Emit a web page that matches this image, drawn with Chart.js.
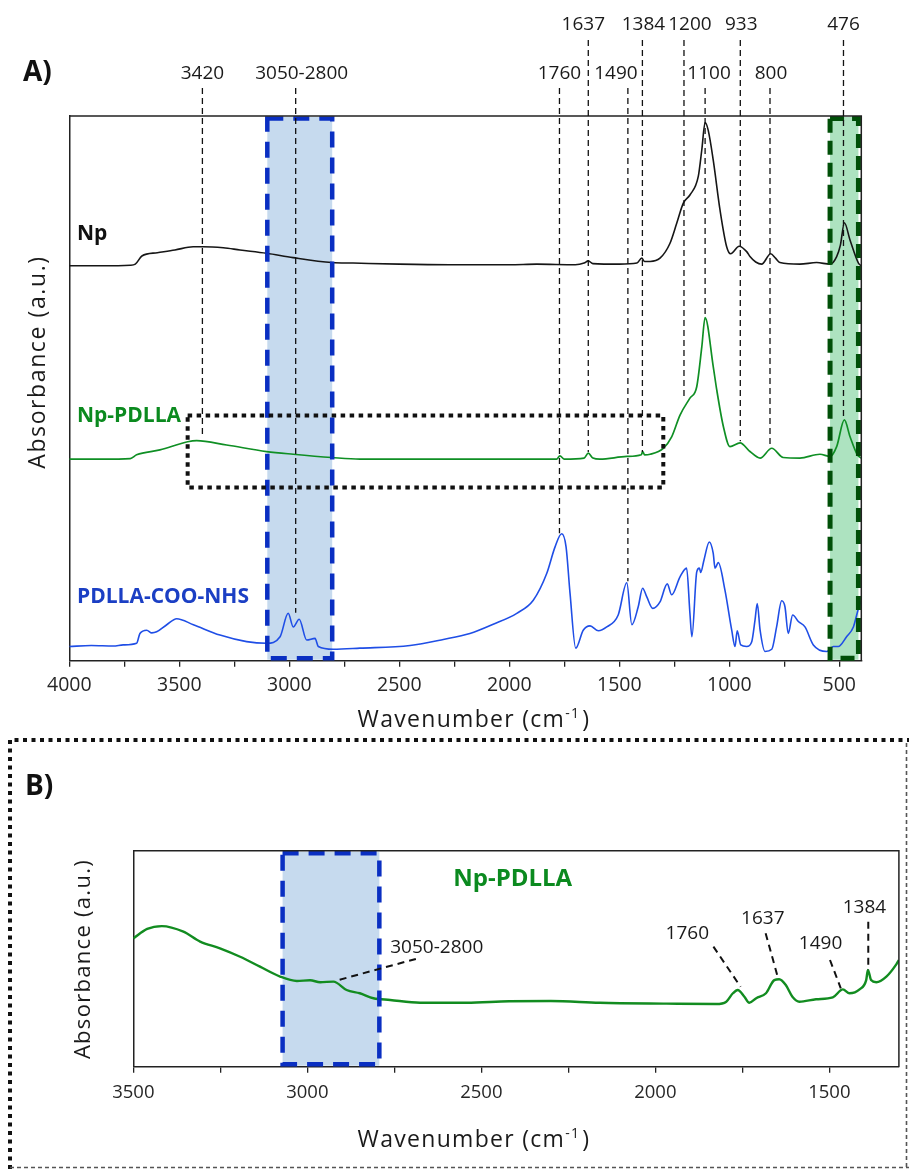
<!DOCTYPE html>
<html><head><meta charset="utf-8">
<script src="https://cdn.jsdelivr.net/npm/chart.js@4.4.1/dist/chart.umd.min.js"></script>
<style>
html,body{margin:0;padding:0;background:#fff;width:909px;height:1169px;overflow:hidden;}
canvas{position:absolute;left:0;display:block;}
#cA{top:0;}
#cB{top:735px;}
</style></head><body>
<canvas id="cA" width="909" height="735" style="width:909px;height:735px"></canvas>
<canvas id="cB" width="909" height="434" style="width:909px;height:434px"></canvas>
<script>
// ---------- DATA (panel A) ----------
const npWn  = [4000,3850,3723,3700,3670,3600,3520,3437,3392,3300,3224,3103,2983,2807,2710,2500,2270,2000,1875,1700,1660,1641,1620,1500,1420,1398,1385,1360,1315,1270,1239,1209,1179,1141,1125,1110,1096,1073,1042,1012,994,955,921,906,880,853,812,790,770,679,603,542,512,495,477,451,413,400];
const npAbs = [72.5,72.5,72.6,72.8,74.3,74.9,75.4,76.0,76.0,75.8,75.4,74.8,74.0,73.1,73.0,72.8,72.7,72.7,72.8,72.7,73.0,73.4,72.9,72.8,73.0,73.9,73.3,73.3,73.9,76.6,80.3,84.0,85.5,88.9,93.8,98.8,97.4,91.9,82.7,76.0,74.7,76.1,75.1,74.2,73.2,72.8,74.7,73.9,73.1,72.8,73.1,72.8,74.2,76.3,80.4,77.2,73.0,72.5];

const pdWn  = [4000,3850,3723,3694,3588,3462,3421,3285,3103,2982,2807,2679,2270,1785,1770,1750,1660,1641,1620,1588,1466,1400,1394,1385,1360,1300,1262,1224,1179,1148,1125,1110,1073,1057,1027,997,951,906,860,807,755,679,588,542,512,477,451,418,400];
const pdAbs = [37.0,37.0,37.1,37.8,38.7,40.2,40.4,39.6,38.4,37.9,37.3,37.0,37.0,37.0,37.6,37.0,37.2,38.1,37.2,37.0,37.5,37.8,38.4,37.8,37.9,39.0,41.1,45.1,48.2,50.3,57.6,63.0,54.0,49.7,43.0,39.3,40.0,38.4,37.2,39.0,37.3,37.2,37.9,37.5,39.3,44.2,41.1,37.8,37.2];

const nhWn  = [4000,3900,3800,3755,3694,3679,3648,3625,3603,3557,3512,3436,3315,3194,3103,3042,3005,2982,2955,2921,2883,2868,2800,2679,2451,2300,2179,2073,1966,1891,1830,1792,1762,1742,1724,1698,1664,1633,1595,1557,1505,1466,1443,1414,1394,1375,1348,1315,1282,1262,1224,1194,1179,1170,1148,1136,1130,1115,1091,1073,1065,1050,1020,989,974,964,948,921,898,883,873,860,838,807,785,762,747,732,712,686,656,618,557,527,505,467,436,413,400];
const nhAbs = [2.6,2.8,2.7,2.9,3.2,5.0,5.6,5.1,5.3,6.6,7.7,6.6,4.7,3.5,3.2,4.4,8.7,6.2,7.6,3.8,4.1,2.6,2.1,2.3,2.8,3.9,5.0,6.7,8.7,11.1,16.0,20.9,23.3,20.9,12.4,2.3,5.6,6.4,5.5,6.2,8.4,14.3,6.6,9.9,13.3,11.7,9.6,10.8,14.1,12.1,15.4,17.0,8.7,4.4,16.3,17.0,16.2,18.5,21.8,19.7,17.0,18.0,13.0,5.6,2.6,5.5,2.9,2.6,3.5,7.5,10.5,5.6,1.7,2.1,6.2,11.0,9.9,5.0,8.4,7.2,6.2,2.9,1.7,2.6,2.6,4.4,6.2,9.6,11.1];

const seriesNamesA = ['Np','Np-PDLLA','PDLLA-COO-NHS'];

// peak annotations (panel A)
const peakText = ['3420','3050-2800','1760','1637','1490','1384','1200','1100','933','800','476'];
const peakWn   = [3395,2971,1772,1641,1461,1395,1206,1110,950,815,481];
const peakEnd  = [41.1,8.8,23.4,38.3,14.6,38.3,48.4,63.1,40.3,39.2,44.4];
const peakRow  = [1,1,1,0,1,0,0,1,0,1,0];

const blueBandA  = [3100,2805];
const greenBandA = [542,413];
const zoomBoxA   = [3462,1300,31.8,45.0]; // wn from, wn to, abs low, abs high

const xTickValsA = [4000,3750,3500,3250,3000,2750,2500,2250,2000,1750,1500,1250,1000,750,500];
const xRangeA = [400,4000];

// ---------- DATA (panel B) ----------
const bWn  = [3500,3460,3418,3356,3308,3251,3193,3136,3078,3030,2992,2963,2925,2887,2849,2810,2762,2676,2542,2420,2300,2160,1968,1825,1796,1777,1763,1744,1730,1710,1682,1658,1644,1625,1606,1586,1538,1490,1461,1442,1413,1394,1389,1380,1365,1336,1307,1300];
const bAbs = [59.4,63.8,65.1,62.5,57.9,54.8,50.9,46.3,41.7,39.7,40.0,39.1,39.4,35.5,34.0,31.7,30.9,29.6,29.6,30.3,30.4,29.6,29.2,29.0,30.1,34.0,35.5,32.4,29.6,31.7,34.0,40.1,40.5,37.8,32.4,30.1,31.2,32.1,35.8,34.0,35.8,40.1,44.8,40.1,39.1,41.7,47.5,49.4];

const bandB = [3071,2793];
const bLabText = ['3050-2800','1760','1637','1490','1384'];
const bLabWn   = [2628,1908,1691,1525,1399];
const bLabAbs  = [56.0,62.2,69.2,57.9,74.4];
const bLeadFromWn  = [2688,1833,1683,1498,1388];
const bLeadFromAbs = [49.9,55.6,61.8,49.4,67.1];
const bLeadToWn    = [2920,1755,1647,1467,1388];
const bLeadToAbs   = [39.7,37.0,40.9,36.3,44.8];

const xTickValsB = [3500,3250,3000,2750,2500,2250,2000,1750,1500];
const xRangeB = [1300,3500];

// ---------- helpers ----------
const zip = (xs, ys) => xs.map((v,i)=>({x:v, y:ys[i]}));
const F = '"Open Sans", "Liberation Sans", sans-serif';
const GREEN = '#0f8f24', BLUE = '#1f4ee6', INK = '#1a1a1a';

function drawXTitle(ctx, cx, base){
  ctx.save();
  ctx.fillStyle = INK; ctx.textAlign='left'; ctx.textBaseline='alphabetic';
  ctx.letterSpacing = '1.3px';
  ctx.font = '23px ' + F;
  const main='Wavenumber (cm', end=')';
  const w1 = ctx.measureText(main).width, w3 = ctx.measureText(end).width;
  ctx.font = '14px ' + F;
  const w2 = ctx.measureText('-1').width;
  let x = cx - (w1+w2+w3+2)/2;
  ctx.font = '23px ' + F; ctx.fillText(main, x, base); x += w1;
  ctx.font = '14px ' + F; ctx.fillText('-1', x, base-9); x += w2+2;
  ctx.font = '23px ' + F; ctx.fillText(end, x, base);
  ctx.restore();
}
function drawYTitle(ctx, cx, cy, size, spacing){
  ctx.save();
  ctx.translate(cx, cy); ctx.rotate(-Math.PI/2);
  ctx.fillStyle = INK; ctx.textAlign='center'; ctx.textBaseline='middle';
  ctx.letterSpacing = spacing + 'px';
  ctx.font = size + 'px ' + F;
  ctx.fillText('Absorbance (a.u.)', 0, 0);
  ctx.restore();
}
function frame(ctx, ca){
  ctx.save(); ctx.strokeStyle='#222'; ctx.lineWidth=1.5; ctx.setLineDash([]);
  ctx.beginPath(); ctx.moveTo(ca.left, ca.top); ctx.lineTo(ca.right, ca.top); ctx.lineTo(ca.right, ca.bottom); ctx.stroke();
  ctx.restore();
}
function xScaleCfg(range, tickVals, fontSize, pad, h){
  return {
    type:'linear', min:range[0], max:range[1], reverse:true,
    afterFit(s){ s.height = h; },
    afterBuildTicks(s){ s.ticks = tickVals.map(v => ({value:v})); },
    ticks:{autoSkip:false, maxRotation:0, minRotation:0,
      color:'#262626', padding:pad, font:{family:F, size:fontSize},
      callback:v => (v % 500 === 0 ? String(v) : '')},
    grid:{display:true, drawOnChartArea:false, drawTicks:true, tickLength:6, color:'#222', lineWidth:1.3},
    border:{display:true, color:'#222', width:1.5}
  };
}
function yScaleCfg(w){
  return {min:0, max:100, afterFit(s){ s.width = w; },
    ticks:{display:false}, grid:{display:false}, border:{display:true, color:'#222', width:1.5}};
}
const lineDs = (label, data, color, width) => ({label, data, borderColor:color, borderWidth:width,
  pointRadius:0, fill:false, cubicInterpolationMode:'monotone', parsing:false});

// ---------- PANEL A ----------
const annotA = {
  id:'annotA',
  beforeDatasetsDraw(chart){
    const {ctx, chartArea:ca, scales:{x}} = chart;
    ctx.save();
    const b1=x.getPixelForValue(blueBandA[0]), b2=x.getPixelForValue(blueBandA[1]);
    ctx.fillStyle='#c6daee'; ctx.fillRect(b1, ca.top+1, b2-b1, ca.bottom-ca.top-2);
    const g1=x.getPixelForValue(greenBandA[0]), g2=x.getPixelForValue(greenBandA[1]);
    ctx.fillStyle='#ade3c0'; ctx.fillRect(g1, ca.top+1, g2-g1, ca.bottom-ca.top-2);
    ctx.restore();
  },
  afterDatasetsDraw(chart){
    const {ctx, chartArea:ca, scales:{x,y}} = chart;
    ctx.save();
    let b1=x.getPixelForValue(blueBandA[0]), b2=x.getPixelForValue(blueBandA[1]);
    ctx.strokeStyle='#0a2fc2'; ctx.lineWidth=4.5; ctx.setLineDash([16,10]);
    ctx.strokeRect(b1, ca.top+2.5, b2-b1, ca.bottom-ca.top-5);
    let g1=x.getPixelForValue(greenBandA[0]), g2=x.getPixelForValue(greenBandA[1]);
    ctx.strokeStyle='#004f08'; ctx.lineWidth=5; ctx.setLineDash([14,8]);
    ctx.strokeRect(g1, ca.top+2.5, g2-g1, ca.bottom-ca.top-5);
    const zx1=x.getPixelForValue(zoomBoxA[0]), zx2=x.getPixelForValue(zoomBoxA[1]);
    const zy1=y.getPixelForValue(zoomBoxA[3]), zy2=y.getPixelForValue(zoomBoxA[2]);
    ctx.strokeStyle='#111'; ctx.lineWidth=4; ctx.setLineDash([4.5,4.5]);
    ctx.strokeRect(zx1, zy1, zx2-zx1, zy2-zy1);
    ctx.restore();
  },
  afterDraw(chart){
    const {ctx, chartArea:ca, scales:{x,y}} = chart;
    frame(ctx, ca);
    ctx.save();
    const labelDx = [0,6,0,-5,-12,1,6,4,1,1,0];
    const startY = [40,88], labY = [29.5,78.5];
    ctx.strokeStyle='#111'; ctx.lineWidth=1.3; ctx.setLineDash([6,4]);
    peakWn.forEach((w,i)=>{
      const px = x.getPixelForValue(w);
      ctx.beginPath(); ctx.moveTo(px, startY[peakRow[i]]); ctx.lineTo(px, y.getPixelForValue(peakEnd[i])); ctx.stroke();
    });
    ctx.setLineDash([]);
    ctx.fillStyle=INK; ctx.textAlign='center'; ctx.textBaseline='alphabetic';
    ctx.font = '19px ' + F;
    peakWn.forEach((w,i)=>{
      ctx.fillText(peakText[i], x.getPixelForValue(w)+labelDx[i], labY[peakRow[i]]);
    });
    ctx.textAlign='left'; ctx.font='bold 21px ' + F;
    ctx.fillStyle='#111'; ctx.fillText(seriesNamesA[0], 77, 240);
    ctx.fillStyle='#0b8a1f'; ctx.fillText(seriesNamesA[1], 77, 421.5);
    ctx.fillStyle='#1b3fc4'; ctx.fillText(seriesNamesA[2], 77, 602.5);
    ctx.fillStyle='#111'; ctx.font='bold 28px ' + F; ctx.fillText('A)', 23, 81);
    ctx.restore();
    drawYTitle(ctx, 38, 362, 23, 1.6);
    drawXTitle(ctx, 474, 727);
  }
};

new Chart(document.getElementById('cA'), {
  type:'line',
  data:{datasets:[
    lineDs(seriesNamesA[0], zip(npWn,npAbs), '#161616', 1.6),
    lineDs(seriesNamesA[1], zip(pdWn,pdAbs), GREEN, 1.7),
    lineDs(seriesNamesA[2], zip(nhWn,nhAbs), BLUE, 1.6)
  ]},
  options:{
    responsive:false, animation:false, devicePixelRatio:1,
    layout:{padding:{left:0, right:909-861.3, top:116, bottom:0}},
    plugins:{legend:{display:false}, tooltip:{enabled:false}},
    scales:{ x:xScaleCfg(xRangeA, xTickValsA, 19.5, 7, 735-660.7), y:yScaleCfg(69.3) }
  },
  plugins:[annotA]
});

// ---------- PANEL B ----------
const annotB = {
  id:'annotB',
  beforeDraw(chart){
    const {ctx} = chart;
    ctx.save();
    ctx.strokeStyle='#111'; ctx.lineWidth=4; ctx.setLineDash([4,4.5]);
    ctx.beginPath(); ctx.moveTo(10, 434); ctx.lineTo(10, 5); ctx.lineTo(909, 5); ctx.stroke();
    ctx.strokeStyle='#555'; ctx.lineWidth=1.6; ctx.setLineDash([4,3]);
    ctx.beginPath(); ctx.moveTo(10, 432.5); ctx.lineTo(909, 432.5); ctx.stroke();
    ctx.beginPath(); ctx.moveTo(906.5, 8); ctx.lineTo(906.5, 432); ctx.stroke();
    ctx.restore();
  },
  beforeDatasetsDraw(chart){
    const {ctx, chartArea:ca, scales:{x}} = chart;
    const b1=x.getPixelForValue(bandB[0]), b2=x.getPixelForValue(bandB[1]);
    ctx.save(); ctx.fillStyle='#c6daee'; ctx.fillRect(b1, ca.top+1, b2-b1, ca.bottom-ca.top-2); ctx.restore();
  },
  afterDatasetsDraw(chart){
    const {ctx, chartArea:ca, scales:{x}} = chart;
    const b1=x.getPixelForValue(bandB[0]), b2=x.getPixelForValue(bandB[1]);
    ctx.save(); ctx.strokeStyle='#0a2fc2'; ctx.lineWidth=4.5; ctx.setLineDash([16,10]);
    ctx.strokeRect(b1, ca.top+2.5, b2-b1, ca.bottom-ca.top-5); ctx.restore();
  },
  afterDraw(chart){
    const {ctx, chartArea:ca, scales:{x,y}} = chart;
    frame(ctx, ca);
    ctx.save();
    ctx.strokeStyle='#111'; ctx.lineWidth=2; ctx.setLineDash([7,5]);
    bLabText.forEach((t,i)=>{
      ctx.beginPath();
      ctx.moveTo(x.getPixelForValue(bLeadFromWn[i]), y.getPixelForValue(bLeadFromAbs[i]));
      ctx.lineTo(x.getPixelForValue(bLeadToWn[i]), y.getPixelForValue(bLeadToAbs[i]));
      ctx.stroke();
    });
    ctx.setLineDash([]);
    ctx.fillStyle=INK; ctx.textAlign='center'; ctx.textBaseline='alphabetic'; ctx.font='19px ' + F;
    bLabText.forEach((t,i)=>{
      ctx.fillText(t, x.getPixelForValue(bLabWn[i]), y.getPixelForValue(bLabAbs[i]) + 7);
    });
    ctx.fillStyle='#0b8a1f'; ctx.font='bold 24px ' + F; ctx.fillText(seriesNamesA[1], 512.7, 150.5);
    ctx.fillStyle='#111'; ctx.font='bold 28px ' + F; ctx.textAlign='left'; ctx.fillText('B)', 25, 60);
    ctx.restore();
    drawYTitle(ctx, 84, 224, 22, 1.3);
    drawXTitle(ctx, 474, 411.5);
  }
};

new Chart(document.getElementById('cB'), {
  type:'line',
  data:{datasets:[ lineDs(seriesNamesA[1], zip(bWn,bAbs), '#128c20', 2.4) ]},
  options:{
    responsive:false, animation:false, devicePixelRatio:1,
    layout:{padding:{left:0, right:909-898.9, top:115.7, bottom:0}},
    plugins:{legend:{display:false}, tooltip:{enabled:false}},
    scales:{ x:xScaleCfg(xRangeB, xTickValsB, 18.5, 9, 434-331.7), y:yScaleCfg(133.3) }
  },
  plugins:[annotB]
});
</script>
</body></html>
